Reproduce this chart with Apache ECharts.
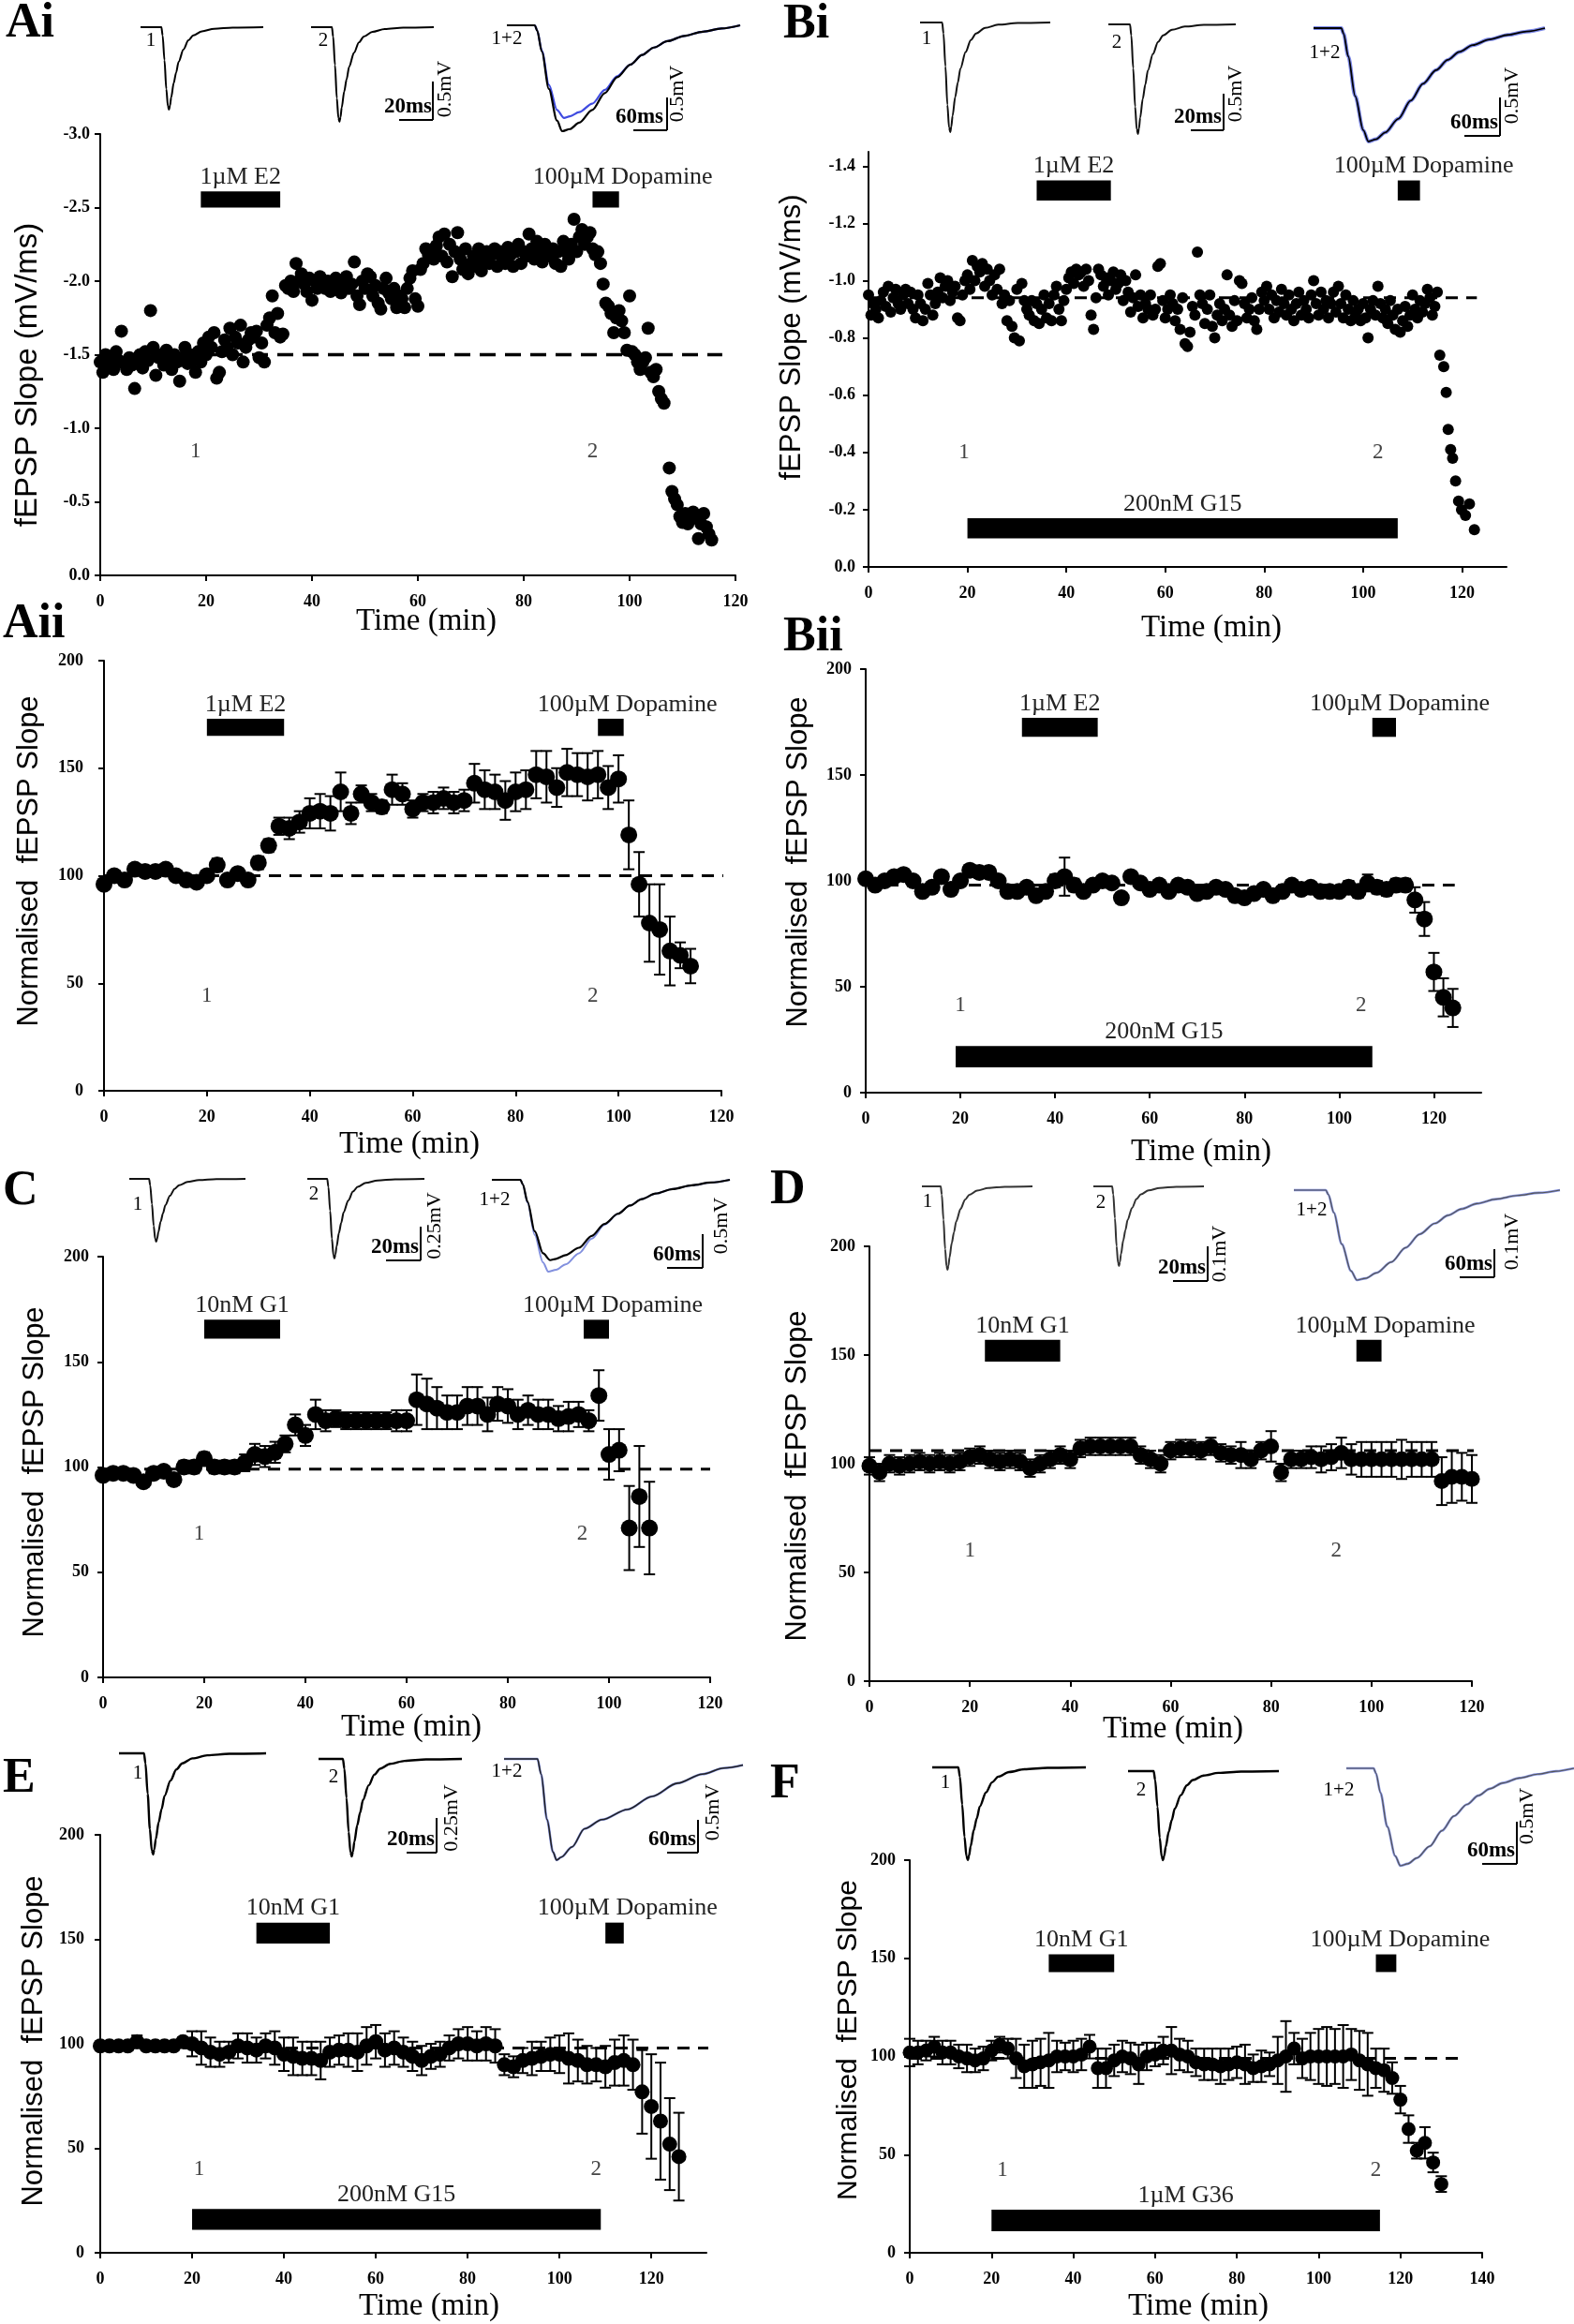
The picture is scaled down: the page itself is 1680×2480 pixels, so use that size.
<!DOCTYPE html>
<html>
<head>
<meta charset="utf-8">
<script src="https://cdn.jsdelivr.net/npm/echarts@6/dist/echarts.min.js"></script>
<style>
html, body { margin: 0; background: #fff; }
#chart { width: 1680px; height: 2480px; }
</style>
</head>
<body>
<div id="chart"></div>
<script>
// ---- data ----

// Ai: single experiment, fEPSP slope (mV/ms) vs time (min)
const aiPoints = [[0,-1.45],[0.5,-1.38],[1,-1.5],[1.5,-1.42],[2,-1.47],[2.5,-1.4],[3,-1.52],[3.5,-1.46],[4,-1.66],[4.5,-1.44],[5,-1.4],[5.5,-1.48],[6,-1.43],[6.5,-1.27],[7,-1.45],[7.5,-1.5],[8,-1.41],[8.5,-1.52],[9,-1.46],[9.5,-1.8],[10,-1.55],[10.5,-1.36],[11,-1.48],[11.5,-1.5],[12,-1.43],[12.5,-1.53],[13,-1.47],[13.5,-1.4],[14,-1.5],[14.5,-1.45],[15,-1.32],[15.5,-1.48],[16,-1.55],[16.5,-1.44],[17,-1.5],[17.5,-1.46],[18,-1.38],[18.5,-1.52],[19,-1.45],[19.5,-1.58],[20,-1.5],[20.5,-1.62],[21,-1.55],[21.5,-1.65],[22,-1.34],[22.5,-1.38],[23,-1.52],[23.5,-1.6],[24,-1.55],[24.5,-1.68],[25,-1.5],[25.5,-1.62],[26,-1.58],[26.5,-1.7],[27,-1.45],[27.5,-1.55],[28,-1.6],[28.5,-1.65],[29,-1.62],[29.5,-1.66],[30,-1.48],[30.5,-1.58],[31,-1.45],[31.5,-1.7],[32,-1.75],[32.5,-1.9],[33,-1.65],[33.5,-1.78],[34,-1.62],[34.5,-1.64],[35,-1.97],[35.5,-1.95],[36,-2.0],[36.5,-1.93],[37,-2.12],[37.5,-2.0],[38,-2.05],[38.5,-1.98],[39,-1.93],[39.5,-2.02],[40,-1.87],[40.5,-2.0],[41,-1.95],[41.5,-2.03],[42,-1.97],[42.5,-1.95],[43,-2.0],[43.5,-1.93],[44,-1.98],[44.5,-2.02],[45,-1.96],[45.5,-1.92],[46,-2.0],[46.5,-2.03],[47,-1.95],[47.5,-1.98],[48,-2.13],[48.5,-1.9],[49,-1.84],[49.5,-2.0],[50,-1.95],[50.5,-2.05],[51,-2.03],[51.5,-1.9],[52,-1.97],[52.5,-1.85],[53,-1.81],[53.5,-1.95],[54,-2.02],[54.5,-1.92],[55,-1.88],[55.5,-1.95],[56,-1.82],[56.5,-1.9],[57,-1.88],[57.5,-1.82],[58,-1.95],[58.5,-2.02],[59,-2.07],[59.5,-1.88],[60,-1.83],[60.5,-2.08],[61,-2.12],[61.5,-2.22],[62,-2.18],[62.5,-2.2],[63,-2.15],[63.5,-2.24],[64,-2.3],[64.5,-2.17],[65,-2.32],[65.5,-2.13],[66,-2.25],[66.5,-2.03],[67,-2.2],[67.5,-2.33],[68,-2.15],[68.5,-2.08],[69,-2.22],[69.5,-2.05],[70,-2.12],[70.5,-2.17],[71,-2.1],[71.5,-2.22],[72,-2.07],[72.5,-2.15],[73,-2.2],[73.5,-2.12],[74,-2.18],[74.5,-2.22],[75,-2.1],[75.5,-2.2],[76,-2.15],[76.5,-2.12],[77,-2.23],[77.5,-2.18],[78,-2.1],[78.5,-2.2],[79,-2.25],[79.5,-2.12],[80,-2.2],[80.5,-2.17],[81,-2.32],[81.5,-2.22],[82,-2.15],[82.5,-2.27],[83,-2.2],[83.5,-2.13],[84,-2.25],[84.5,-2.2],[85,-2.17],[85.5,-2.22],[86,-2.12],[86.5,-2.2],[87,-2.1],[87.5,-2.27],[88,-2.2],[88.5,-2.15],[89,-2.25],[89.5,-2.42],[90,-2.2],[90.5,-2.3],[91,-2.35],[91.5,-2.25],[92,-2.3],[92.5,-2.33],[93,-2.22],[93.5,-2.18],[94,-2.2],[94.5,-2.12],[95,-1.98],[95.5,-1.85],[96,-1.83],[96.5,-1.78],[97,-1.65],[97.5,-1.75],[98,-1.8],[98.5,-1.73],[99,-1.65],[99.5,-1.53],[100,-1.9],[100.5,-1.52],[101,-1.5],[101.5,-1.45],[102,-1.4],[102.5,-1.45],[103,-1.48],[103.5,-1.68],[104,-1.38],[104.5,-1.35],[105,-1.4],[105.5,-1.25],[106,-1.2],[106.5,-1.17],[107.5,-0.73],[108,-0.57],[108.5,-0.52],[109,-0.48],[109.5,-0.4],[110,-0.36],[110.5,-0.42],[111,-0.35],[111.5,-0.38],[112,-0.43],[112.5,-0.4],[113,-0.25],[113.5,-0.35],[114,-0.42],[114.5,-0.33],[115,-0.28],[115.5,-0.24]];
const aiBaseline = [[0,-1.5],[117.5,-1.5]];
const aiDrugs = [['1µM E2',19,34],['100µM Dopamine',93,98]];

// Bi: single experiment with G15
const biPoints = [[0,-0.95],[0.5,-0.88],[1,-0.92],[1.5,-0.9],[2,-0.87],[2.5,-0.93],[3,-0.96],[3.5,-0.91],[4,-0.98],[4.5,-0.89],[5,-0.94],[5.5,-0.97],[6,-0.92],[6.5,-0.9],[7,-0.95],[7.5,-0.97],[8,-0.92],[8.5,-0.96],[9,-0.9],[9.5,-0.87],[10,-0.95],[10.5,-0.92],[11,-0.86],[11.5,-0.9],[12,-0.99],[12.5,-0.95],[13,-0.88],[13.5,-0.92],[14,-0.96],[14.5,-1.01],[15,-0.94],[15.5,-0.98],[16,-1.0],[16.5,-0.93],[17,-0.96],[17.5,-0.98],[18,-0.87],[18.5,-0.86],[19,-0.95],[19.5,-1.0],[20,-1.02],[20.5,-0.97],[21,-1.07],[21.5,-1.0],[22,-1.05],[22.5,-1.03],[23,-1.06],[23.5,-0.98],[24,-1.04],[24.5,-1.0],[25,-0.95],[25.5,-1.02],[26,-0.97],[26.5,-1.04],[27,-0.92],[27.5,-0.95],[28,-0.86],[28.5,-0.93],[29,-0.84],[29.5,-0.8],[30,-0.97],[30.5,-0.79],[31,-0.99],[31.5,-0.93],[32,-0.9],[32.5,-0.88],[33,-0.93],[33.5,-0.86],[34,-0.92],[34.5,-0.85],[35,-0.9],[35.5,-0.95],[36,-0.87],[36.5,-0.92],[37,-0.86],[37.5,-0.95],[38,-0.98],[38.5,-0.9],[39,-0.86],[39.5,-0.93],[40,-0.97],[40.5,-1.01],[41,-1.03],[41.5,-0.99],[42,-1.04],[42.5,-1.02],[43,-1.03],[43.5,-0.98],[44,-1.04],[44.5,-1.0],[45,-0.88],[45.5,-0.83],[46,-0.94],[46.5,-1.04],[47,-1.02],[47.5,-0.98],[48,-1.01],[48.5,-0.95],[49,-1.0],[49.5,-1.03],[50,-0.97],[50.5,-0.99],[51,-1.02],[51.5,-0.93],[52,-1.0],[52.5,-0.96],[53,-0.89],[53.5,-0.94],[54,-1.02],[54.5,-0.91],[55,-0.95],[55.5,-0.87],[56,-0.92],[56.5,-0.9],[57,-0.95],[57.5,-0.88],[58,-0.9],[58.5,-1.05],[59,-1.06],[59.5,-0.93],[60,-0.87],[60.5,-0.9],[61,-0.95],[61.5,-0.92],[62,-0.86],[62.5,-0.9],[63,-0.83],[63.5,-0.94],[64,-0.78],[64.5,-0.77],[65,-0.82],[65.5,-0.91],[66,-0.88],[66.5,-1.1],[67,-0.95],[67.5,-0.92],[68,-0.85],[68.5,-0.9],[69,-0.95],[69.5,-0.84],[70,-0.8],[70.5,-0.88],[71,-0.92],[71.5,-0.86],[72,-0.9],[72.5,-1.02],[73,-0.88],[73.5,-0.84],[74,-0.93],[74.5,-0.86],[75,-1.0],[75.5,-0.99],[76,-0.92],[76.5,-0.87],[77,-0.9],[77.5,-0.94],[78,-0.86],[78.5,-0.83],[79,-0.9],[79.5,-0.96],[80,-0.93],[80.5,-0.98],[81,-0.9],[81.5,-0.95],[82,-0.87],[82.5,-0.93],[83,-0.89],[83.5,-0.97],[84,-0.92],[84.5,-0.88],[85,-0.95],[85.5,-0.9],[86,-0.86],[86.5,-0.92],[87,-0.96],[87.5,-0.88],[88,-0.93],[88.5,-0.9],[89,-0.87],[89.5,-0.95],[90,-1.0],[90.5,-0.92],[91,-0.88],[91.5,-0.96],[92,-0.9],[92.5,-0.93],[93,-0.87],[93.5,-0.92],[94,-0.96],[94.5,-0.89],[95,-0.98],[95.5,-0.92],[96,-0.87],[96.5,-0.95],[97,-0.9],[97.5,-0.86],[98,-0.93],[98.5,-0.88],[99,-0.9],[99.5,-0.86],[100,-0.92],[100.5,-0.87],[101,-0.8],[101.5,-0.9],[102,-0.93],[102.5,-0.88],[103,-0.98],[103.5,-0.92],[104,-0.87],[104.5,-0.9],[105,-0.85],[105.5,-0.93],[106,-0.88],[106.5,-0.83],[107,-0.9],[107.5,-0.82],[108,-0.86],[108.5,-0.91],[109,-0.84],[109.5,-0.88],[110,-0.95],[110.5,-0.9],[111,-0.87],[111.5,-0.93],[112,-0.89],[112.5,-0.92],[113,-0.97],[113.5,-0.94],[114,-0.88],[114.5,-0.91],[115,-0.96],[115.5,-0.74],[116.3,-0.7],[116.8,-0.61],[117.2,-0.48],[117.7,-0.41],[118.1,-0.38],[118.7,-0.3],[119.3,-0.23],[119.9,-0.2],[120.7,-0.18],[121.5,-0.22],[122.5,-0.13]];
const biBaseline = [[0,-0.94],[123,-0.94]];
const biDrugs = [['1µM E2',34,49],['100µM Dopamine',107,111.5],['200nM G15',20,107]];

// Aii: mean ± SEM, normalised slope
const aiiTime = [0,2,4,6,8,10,12,14,16,18,20,22,24,26,28,30,32,34,36,38,40,42,44,46,48,50,52,54,56,58,60,62,64,66,68,70,72,74,76,78,80,82,84,86,88,90,92,94,96,98,100,102,104,106,108,110,112,114];
const aiiMean = [96,100,98,103,102,102,103,100,98,97,100,105,98,101,98,106,114,123,122,125,129,130,129,139,129,138,134,132,140,138,131,134,134,136,134,135,143,140,139,135,139,140,147,146,141,148,147,146,147,141,145,119,96,78,75,65,63,58];
const aiiSem = [2,2,2,2,2,2,2,2,2,2,2,3,2,2,2,3,3,4,5,5,7,8,8,9,5,4,4,3,7,5,4,4,5,5,5,5,9,9,8,9,9,9,11,12,9,11,10,11,11,10,11,16,15,18,21,16,6,8];
const aiiBaseline = [[0,100],[121,100]];
const aiiDrugs = [['1µM E2',20,35],['100µM Dopamine',96,101]];

// Bii
const biiTime = [0,2,4,6,8,10,12,14,16,18,20,22,24,26,28,30,32,34,36,38,40,42,44,46,48,50,52,54,56,58,60,62,64,66,68,70,72,74,76,78,80,82,84,86,88,90,92,94,96,98,100,102,104,106,108,110,112,114,116,118,120,122,124];
const biiMean = [101,98,100,102,103,100,95,97,102,96,100,105,104,104,100,95,95,97,93,95,100,102,98,95,98,100,99,92,102,99,96,98,95,98,97,94,95,97,96,93,92,94,96,93,95,98,96,97,95,95,95,97,95,99,97,96,98,98,91,82,57,45,40];
const biiSem = [2,2,2,2,2,2,2,2,2,2,2,2,2,2,2,2,2,2,2,2,3,9,3,2,2,2,2,2,2,2,2,2,2,2,2,2,2,2,2,2,2,2,2,2,2,2,2,2,2,2,2,3,3,4,3,3,3,3,6,8,9,9,9];
const biiBaseline = [[0,98],[124.4,98]];
const biiDrugs = [['1µM E2',33,49],['100µM Dopamine',107,112],['200nM G15',19,107]];

// C
const cTime = [0,2,4,6,8,10,12,14,16,18,20,22,24,26,28,30,32,34,36,38,40,42,44,46,48,50,52,54,56,58,60,62,64,66,68,70,72,74,76,78,80,82,84,86,88,90,92,94,96,98,100,102,104,106,108];
const cMean = [96,97,97,96,93,97,98,94,100,100,104,100,100,100,102,106,105,107,111,120,115,125,122,123,122,122,122,122,122,122,122,132,130,128,126,126,129,129,125,130,129,125,127,125,125,123,124,125,122,134,106,108,71,86,71];
const cSem = [2,2,2,2,2,2,2,2,3,3,3,3,3,3,4,5,5,5,4,5,5,7,5,4,4,4,4,4,4,5,5,12,12,10,8,8,9,9,8,8,8,7,7,7,7,6,7,6,5,12,12,10,20,24,22];
const cBaseline = [[0,99],[120,99]];
const cDrugs = [['10nM G1',20,35],['100µM Dopamine',95,100]];

// D
const dTime = [0,2,4,6,8,10,12,14,16,18,20,22,24,26,28,30,32,34,36,38,40,42,44,46,48,50,52,54,56,58,60,62,64,66,68,70,72,74,76,78,80,82,84,86,88,90,92,94,96,98,100,102,104,106,108,110,112,114,116,118,120];
const dMean = [99,96,100,99,100,101,100,101,100,101,103,104,102,101,102,101,98,100,102,104,102,107,108,108,108,108,108,104,102,100,106,107,107,106,108,105,104,104,102,106,108,96,102,102,103,102,103,105,102,102,102,102,102,102,102,102,102,92,94,94,93];
const dSem = [4,4,4,4,4,4,4,4,4,4,4,4,4,4,4,4,4,4,4,4,4,4,4,4,4,4,4,4,4,4,4,4,4,4,4,4,4,6,4,4,7,4,4,4,5,6,6,7,7,8,8,8,8,9,8,8,8,11,12,11,11];
const dBaseline = [[0,106],[125.6,106]];
const dDrugs = [['10nM G1',23,38],['100µM Dopamine',97,102]];

// E
const eTime = [0,2,4,6,8,10,12,14,16,18,20,22,24,26,28,30,32,34,36,38,40,42,44,46,48,50,52,54,56,58,60,62,64,66,68,70,72,74,76,78,80,82,84,86,88,90,92,94,96,98,100,102,104,106,108,110,112,114,116,118,120,122,124,126];
const eMean = [99,99,99,99,101,99,99,99,99,101,100,98,96,95,96,99,98,97,99,98,95,94,93,93,92,96,97,97,96,99,101,97,98,96,94,92,94,95,98,100,100,99,100,99,90,89,92,93,94,95,95,93,92,90,90,89,91,92,90,77,70,63,52,46];
const eSem = [2,2,2,2,3,2,2,2,2,2,6,8,7,6,5,6,7,6,6,8,8,9,8,8,9,7,7,8,9,9,8,8,8,7,7,7,6,6,6,7,8,7,8,8,5,5,6,8,7,8,9,12,10,9,8,10,11,12,12,20,25,28,22,21];
const eBaseline = [[0,98],[134.8,98]];
const eDrugs = [['10nM G1',34,50],['100µM Dopamine',110,114],['200nM G15',20,109]];

// F
const fTime = [0,2,4,6,8,10,12,14,16,18,20,22,24,26,28,30,32,34,36,38,40,42,44,46,48,50,52,54,56,58,60,62,64,66,68,70,72,74,76,78,80,82,84,86,88,90,92,94,96,98,100,102,104,106,108,110,112,114,116,118,120,122,124,126,128,130];
const fMean = [102,102,103,105,102,102,100,99,98,99,103,106,104,99,95,96,97,98,100,100,100,101,105,94,94,98,100,99,96,100,101,103,103,101,100,97,96,96,95,96,97,96,94,95,96,98,100,104,99,100,100,100,100,100,101,98,96,94,93,89,78,63,52,56,46,35];
const fSem = [7,6,5,5,6,6,6,7,6,6,5,4,5,10,11,12,12,14,8,7,8,8,6,10,10,8,8,8,10,7,6,7,12,8,8,7,8,8,9,8,8,10,7,8,6,12,18,8,10,12,14,15,14,16,13,15,16,10,11,8,7,7,4,8,5,4];
const fBaseline = [[0,99],[135,99]];
const fDrugs = [['10nM G1',34,50],['100µM Dopamine',114,119],['1µM G36',20,115]];

// EPSP trace shapes (time as % of window, amplitude relative to peak)
const fastTrace = [[0,0],[17,0],[18,-0.1],[19.5,-0.4],[21,-0.75],[22.3,-0.96],[23.2,-1],[24,-0.95],[25,-0.85],[27,-0.68],[29,-0.55],[31,-0.42],[35,-0.27],[39,-0.16],[43,-0.1],[50,-0.05],[60,-0.02],[75,-0.005],[100,0]];
const slowTrace = [[0,0],[12,0],[13,-0.05],[15,-0.25],[18,-0.6],[21.5,-0.9],[23.7,-1],[27,-0.98],[31,-0.92],[36.6,-0.8],[42,-0.64],[47.3,-0.49],[53,-0.37],[58,-0.28],[63,-0.21],[68.8,-0.15],[76,-0.1],[84,-0.06],[92,-0.03],[100,0]];
const slowTraceSmall = [[0,0],[12,0],[13,-0.05],[15,-0.24],[18,-0.56],[21.5,-0.8],[24.5,-0.875],[27,-0.86],[31,-0.82],[36.6,-0.74],[42,-0.61],[47.3,-0.48],[53,-0.37],[58,-0.28],[63,-0.21],[68.8,-0.15],[76,-0.1],[84,-0.06],[92,-0.03],[100,0]];
const shoulderTrace = [[0,0],[14,0],[15.5,-0.15],[18,-0.6],[20.5,-0.92],[22,-1],[24,-0.97],[28.4,-0.87],[33.7,-0.69],[41,-0.6],[51.6,-0.5],[62,-0.37],[72.6,-0.24],[83,-0.15],[92,-0.09],[100,-0.06]];

// ---- layout & drawing ----
const SERIF = "'Liberation Serif', 'Times New Roman', serif";
const SANS = "'Liberation Sans', Arial, sans-serif";
const xTicks120 = [0,20,40,60,80,100,120];
const xTicks140 = [0,20,40,60,80,100,120,140];
const yTicksNorm = [0,50,100,150,200];
const BLUE = '#3f4be0';
const LIGHTBLUE = '#8290de';
const NORM_NAME = 'Normalised  fEPSP Slope';

function pairs(t, v) { return t.map((x, i) => [x, v[i]]); }
function triples(t, v, e) { return t.map((x, i) => [x, v[i], e[i]]); }

const panels = [
  { letter: 'Ai', letterPos: [6, 26], box: [107, 143, 678, 471], x: [0, 120], y: [-3, 0], inverse: true,
    xTicks: xTicks120, yTicks: [-3,-2.5,-2,-1.5,-1,-0.5,0], decimals: true, yMargin: 11,
    yName: 'fEPSP Slope (mV/ms)', yNamePos: [30, 400], yNameSize: 33, xNamePos: [455, 663],
    points: aiPoints, sym: 14, base: aiBaseline, dash: [17, 10], dashW: 3.5,
    drugs: aiDrugs, rows: [[-2.61, -2.5]], marks: [[18, -0.84], [93, -0.84]],
    traces: [
      { box: [150, 29, 131, 88], lines: [[fastTrace, '#000', 2]] },
      { box: [332, 29, 131, 101], lines: [[fastTrace, '#000', 2]] },
      { box: [541, 27, 249, 113], lines: [[slowTraceSmall, BLUE, 2.2], [slowTrace, '#000', 2.2]] }
    ],
    traceText: [['1', 161, 43], ['2', 345, 43], ['1+2', 541, 41]],
    bars: [
      { h: [426, 462, 128], v: [462, 87, 128], t: '20ms', tx: 461, ty: 126, vt: '0.5mV', vx: 475, vy: 95 },
      { h: [676, 712, 139], v: [712, 104, 139], t: '60ms', tx: 708, ty: 137, vt: '0.5mV', vx: 723, vy: 100 }
    ] },
  { letter: 'Bi', letterPos: [836, 27], box: [927, 162, 681, 443], x: [0, 129], y: [-1.45, 0], inverse: true,
    xTicks: xTicks120, yTicks: [-1.4,-1.2,-1,-0.8,-0.6,-0.4,-0.2,0], decimals: true, yMargin: 14,
    yName: 'fEPSP Slope (mV/ms)', yNamePos: [845, 360], yNameSize: 31, xNamePos: [1293, 670],
    points: biPoints, sym: 12, base: biBaseline, dash: [13, 9], dashW: 3,
    drugs: biDrugs, rows: [[-1.35, -1.28], [-0.17, -0.1]], marks: [[19.3, -0.4], [103, -0.4]],
    traces: [
      { box: [982, 24, 139, 117], lines: [[fastTrace, '#111', 2]] },
      { box: [1183, 26, 136, 117], lines: [[fastTrace, '#111', 2]] },
      { box: [1402, 30, 247, 121], lines: [[slowTrace, '#7c88e8', 4], [slowTrace, '#000', 1.8]] }
    ],
    traceText: [['1', 989, 41], ['2', 1192, 45], ['1+2', 1414, 56]],
    bars: [
      { h: [1271, 1306, 139], v: [1306, 100, 139], t: '20ms', tx: 1304, ty: 137, vt: '0.5mV', vx: 1319, vy: 100 },
      { h: [1563, 1601, 145], v: [1601, 104, 145], t: '60ms', tx: 1599, ty: 143, vt: '0.5mV', vx: 1614, vy: 102 }
    ] },
  { letter: 'Aii', letterPos: [3, 667], box: [111, 705, 659, 459], x: [0, 120], y: [0, 200],
    xTicks: xTicks120, yTicks: yTicksNorm, yMargin: 22,
    yName: NORM_NAME, yNamePos: [31, 919], yNameSize: 31, xNamePos: [437, 1221],
    time: aiiTime, mean: aiiMean, sem: aiiSem, sym: 18, base: aiiBaseline, dash: [13, 9], dashW: 3,
    drugs: aiiDrugs, rows: [[165, 173]], marks: [[20, 44], [95, 44]] },
  { letter: 'Bii', letterPos: [836, 681], box: [924, 714, 657, 452], x: [0, 130], y: [0, 200],
    xTicks: xTicks120, yTicks: yTicksNorm, yMargin: 15,
    yName: NORM_NAME, yNamePos: [852, 920], yNameSize: 31, xNamePos: [1282, 1229],
    time: biiTime, mean: biiMean, sem: biiSem, sym: 18, base: biiBaseline, dash: [13, 9], dashW: 3,
    drugs: biiDrugs, rows: [[168, 177], [12, 22]], marks: [[20, 41], [104.6, 41]] },
  { letter: 'C', letterPos: [3, 1272], box: [110, 1341, 648, 449], x: [0, 120], y: [0, 200],
    xTicks: xTicks120, yTicks: yTicksNorm, yMargin: 15,
    yName: NORM_NAME, yNamePos: [37, 1571], yNameSize: 31, xNamePos: [439, 1843],
    time: cTime, mean: cMean, sem: cSem, sym: 18, base: cBaseline, dash: [13, 9], dashW: 3,
    drugs: cDrugs, rows: [[161, 170]], marks: [[19, 68], [94.7, 68]],
    traces: [
      { box: [138, 1258, 124, 67], lines: [[fastTrace, '#111', 2]] },
      { box: [328, 1258, 125, 85], lines: [[fastTrace, '#111', 2]] },
      { box: [525, 1259, 254, 98], lines: [[slowTrace, LIGHTBLUE, 2], [slowTraceSmall, '#000', 2.2]] }
    ],
    traceText: [['1', 147, 1285], ['2', 335, 1274], ['1+2', 528, 1280]],
    bars: [
      { h: [412, 449, 1345], v: [449, 1309, 1345], t: '20ms', tx: 447, ty: 1343, vt: '0.25mV', vx: 464, vy: 1308 },
      { h: [712, 750, 1353], v: [750, 1317, 1353], t: '60ms', tx: 748, ty: 1351, vt: '0.5mV', vx: 770, vy: 1308 }
    ] },
  { letter: 'D', letterPos: [822, 1271], box: [928, 1330, 643, 464], x: [0, 120], y: [0, 200],
    xTicks: xTicks120, yTicks: yTicksNorm, yMargin: 15,
    yName: NORM_NAME, yNamePos: [851, 1575], yNameSize: 31, xNamePos: [1252, 1845],
    time: dTime, mean: dMean, sem: dSem, sym: 17, base: dBaseline, dash: [13, 9], dashW: 3,
    drugs: dDrugs, rows: [[147, 157]], marks: [[20, 60], [93, 60]],
    traces: [
      { box: [984, 1266, 118, 89], lines: [[fastTrace, '#333', 2]] },
      { box: [1167, 1266, 118, 85], lines: [[fastTrace, '#333', 2]] },
      { box: [1381, 1270, 284, 96], lines: [[slowTrace, LIGHTBLUE, 2.6], [slowTrace, '#555', 1.2]] }
    ],
    traceText: [['1', 990, 1282], ['2', 1175, 1283], ['1+2', 1400, 1291]],
    bars: [
      { h: [1252, 1289, 1367], v: [1289, 1330, 1367], t: '20ms', tx: 1287, ty: 1365, vt: '0.1mV', vx: 1302, vy: 1338 },
      { h: [1558, 1595, 1363], v: [1595, 1333, 1363], t: '60ms', tx: 1593, ty: 1361, vt: '0.1mV', vx: 1614, vy: 1325 }
    ] },
  { letter: 'E', letterPos: [3, 1899], box: [107, 1958, 647, 446], x: [0, 132], y: [0, 200],
    xTicks: xTicks120, yTicks: yTicksNorm, yMargin: 17,
    yName: NORM_NAME, yNamePos: [36, 2178], yNameSize: 31, xNamePos: [458, 2461],
    time: eTime, mean: eMean, sem: eSem, sym: 16, base: eBaseline, dash: [13, 9], dashW: 3,
    drugs: eDrugs, rows: [[148, 158], [11, 21]], marks: [[21.5, 40], [108, 40]],
    traces: [
      { box: [127, 1871, 157, 108], lines: [[fastTrace, '#000', 2.4]] },
      { box: [340, 1877, 153, 104], lines: [[fastTrace, '#000', 2.4]] },
      { box: [538, 1877, 255, 108], lines: [[shoulderTrace, LIGHTBLUE, 2.6], [shoulderTrace, '#222', 1.6]] }
    ],
    traceText: [['1', 147, 1892], ['2', 356, 1896], ['1+2', 541, 1890]],
    bars: [
      { h: [434, 466, 1977], v: [466, 1940, 1977], t: '20ms', tx: 464, ty: 1975, vt: '0.25mV', vx: 482, vy: 1940 },
      { h: [712, 745, 1977], v: [745, 1942, 1977], t: '60ms', tx: 743, ty: 1975, vt: '0.5mV', vx: 761, vy: 1934 }
    ] },
  { letter: 'F', letterPos: [822, 1905], box: [971, 1985, 611, 419], x: [0, 140], y: [0, 200],
    xTicks: xTicks140, yTicks: yTicksNorm, yMargin: 15,
    yName: NORM_NAME, yNamePos: [906, 2177], yNameSize: 30, xNamePos: [1279, 2461],
    time: fTime, mean: fMean, sem: fSem, sym: 15, base: fBaseline, dash: [13, 9], dashW: 3,
    drugs: fDrugs, rows: [[143, 152], [11, 22]], marks: [[22.7, 42], [114, 42]],
    traces: [
      { box: [995, 1886, 164, 99], lines: [[fastTrace, '#000', 2.4]] },
      { box: [1204, 1890, 161, 95], lines: [[fastTrace, '#000', 2.4]] },
      { box: [1437, 1887, 243, 104], lines: [[slowTrace, LIGHTBLUE, 2.6], [slowTrace, '#555', 1.2]] }
    ],
    traceText: [['1', 1009, 1902], ['2', 1218, 1910], ['1+2', 1429, 1910]],
    bars: [
      { h: [1582, 1619, 1989], v: [1619, 1944, 1989], t: '60ms', tx: 1617, ty: 1987, vt: '0.5mV', vx: 1630, vy: 1938 }
    ] }
];

const grids = [], xAxes = [], yAxes = [], series = [], graphics = [];

function addGrid(box, xa, ya) {
  const gi = grids.length;
  grids.push({ left: box[0], top: box[1], width: box[2], height: box[3] });
  xAxes.push(Object.assign({ gridIndex: gi, type: 'value' }, xa));
  yAxes.push(Object.assign({ gridIndex: gi, type: 'value' }, ya));
  return gi;
}

function txt(text, x, y, font, opts) {
  return Object.assign({
    type: 'text', x: x, y: y, silent: true,
    style: { text: text, x: 0, y: 0, font: font, fill: '#000', textAlign: 'center', textVerticalAlign: 'middle' }
  }, opts || {});
}

function line(x1, y1, x2, y2, w) {
  return { type: 'line', silent: true, shape: { x1: x1, y1: y1, x2: x2, y2: y2 }, style: { stroke: '#000', lineWidth: w || 2 } };
}

panels.forEach(p => {
  const axisLine = { onZero: false, lineStyle: { color: '#000', width: 2 } };
  const tick = { show: true, length: 6, lineStyle: { color: '#000', width: 2 } };
  const labelStyle = { color: '#000', fontFamily: SERIF, fontWeight: 'bold', fontSize: 18 };
  const gi = addGrid(p.box, {
    min: p.x[0], max: p.x[1], position: 'bottom',
    axisLine: axisLine,
    axisTick: Object.assign({ customValues: p.xTicks }, tick),
    axisLabel: Object.assign({ customValues: p.xTicks, margin: 19 }, labelStyle),
    splitLine: { show: false }
  }, {
    min: p.y[0], max: p.y[1], inverse: !!p.inverse, position: 'left',
    axisLine: axisLine,
    axisTick: Object.assign({ customValues: p.yTicks }, tick),
    axisLabel: Object.assign({ customValues: p.yTicks, margin: p.yMargin,
      formatter: p.decimals ? (v => Number(v).toFixed(1)) : (v => String(v)) }, labelStyle),
    splitLine: { show: false }
  });

  // dashed baseline
  series.push({ type: 'line', xAxisIndex: gi, yAxisIndex: gi, data: p.base, symbol: 'none', clip: false, silent: true,
    lineStyle: { color: '#000', width: p.dashW, type: p.dash }, z: 1 });

  // error bars
  if (p.time) {
    series.push({
      type: 'custom', xAxisIndex: gi, yAxisIndex: gi, silent: true, z: 2,
      data: triples(p.time, p.mean, p.sem),
      renderItem: (params, api) => {
        const t = api.value(0), m = api.value(1), e = api.value(2);
        const a = api.coord([t, m + e]), b = api.coord([t, m - e]);
        const st = { stroke: '#000', lineWidth: 2 };
        return { type: 'group', children: [
          { type: 'line', shape: { x1: a[0], y1: a[1], x2: b[0], y2: b[1] }, style: st },
          { type: 'line', shape: { x1: a[0] - 6, y1: a[1], x2: a[0] + 6, y2: a[1] }, style: st },
          { type: 'line', shape: { x1: b[0] - 6, y1: b[1], x2: b[0] + 6, y2: b[1] }, style: st }
        ] };
      }
    });
  }

  // points
  series.push({ type: 'scatter', xAxisIndex: gi, yAxisIndex: gi, silent: true, z: 3,
    data: p.points || pairs(p.time, p.mean), symbol: 'circle', symbolSize: p.sym,
    itemStyle: { color: '#000', opacity: 1 } });

  // drug application bars and labels
  const drugs = p.drugs, rows = p.rows;
  series.push({
    type: 'custom', xAxisIndex: gi, yAxisIndex: gi, silent: true, z: 4,
    data: drugs.map((d, i) => [d[1], d[2], i]),
    renderItem: (params, api) => {
      const i = params.dataIndex, d = drugs[i];
      const row = i < 2 ? rows[0] : rows[1];
      const a = api.coord([d[1], row[0]]), b = api.coord([d[2], row[1]]);
      const x0 = Math.min(a[0], b[0]), x1 = Math.max(a[0], b[0]);
      const y0 = Math.min(a[1], b[1]), y1 = Math.max(a[1], b[1]);
      const tx = i === 1 ? x1 + 4 : (x0 + x1) / 2;
      return { type: 'group', children: [
        { type: 'rect', shape: { x: x0, y: y0, width: x1 - x0, height: y1 - y0 }, style: { fill: '#000' } },
        { type: 'text', style: { text: d[0], x: tx, y: y0 - 15, textAlign: 'center', textVerticalAlign: 'middle',
          font: '26px ' + SERIF, fill: '#222' } }
      ] };
    }
  });

  // "1" and "2" sample markers
  const marks = p.marks;
  series.push({
    type: 'custom', xAxisIndex: gi, yAxisIndex: gi, silent: true, z: 4,
    data: marks,
    renderItem: (params, api) => {
      const c = api.coord([api.value(0), api.value(1)]);
      return { type: 'text', style: { text: String(params.dataIndex + 1), x: c[0], y: c[1], textAlign: 'center',
        textVerticalAlign: 'middle', font: '23px ' + SERIF, fill: '#444' } };
    }
  });

  // axis names, panel letter
  graphics.push(txt(p.yName, p.yNamePos[0], p.yNamePos[1], p.yNameSize + 'px ' + SANS, { rotation: Math.PI / 2 }));
  graphics.push(txt('Time (min)', p.xNamePos[0], p.xNamePos[1], '33px ' + SERIF));
  graphics.push({ type: 'text', x: p.letterPos[0], y: p.letterPos[1], silent: true,
    style: { text: p.letter, x: 0, y: 0, font: 'bold 52px ' + SERIF, fill: '#000', textAlign: 'left', textVerticalAlign: 'middle' } });

  // EPSP inset traces
  (p.traces || []).forEach(tr => {
    const ti = addGrid(tr.box, { min: 0, max: 100, show: false }, { min: -1, max: 0, show: false });
    tr.lines.forEach(l => {
      series.push({ type: 'line', xAxisIndex: ti, yAxisIndex: ti, data: l[0], symbol: 'none', smooth: 0.3,
        smoothMonotone: 'x', clip: false, silent: true, lineStyle: { color: l[1], width: l[2] }, z: 2 });
    });
  });
  (p.traceText || []).forEach(t => graphics.push(txt(t[0], t[1], t[2], '21px ' + SERIF)));
  (p.bars || []).forEach(b => {
    graphics.push(line(b.h[0], b.h[2], b.h[1], b.h[2], 2));
    graphics.push(line(b.v[0], b.v[1], b.v[0], b.v[2], 2));
    graphics.push({ type: 'text', x: b.tx, y: b.ty, silent: true,
      style: { text: b.t, x: 0, y: 0, font: 'bold 23px ' + SERIF, fill: '#000', textAlign: 'right', textVerticalAlign: 'bottom' } });
    graphics.push(txt(b.vt, b.vx, b.vy, '22px ' + SERIF, { rotation: Math.PI / 2 }));
  });
});

const chart = echarts.init(document.getElementById('chart'), null, { renderer: 'canvas' });
chart.setOption({
  animation: false,
  backgroundColor: '#fff',
  grid: grids,
  xAxis: xAxes,
  yAxis: yAxes,
  series: series,
  graphic: { elements: graphics }
});
</script>
</body>
</html>
